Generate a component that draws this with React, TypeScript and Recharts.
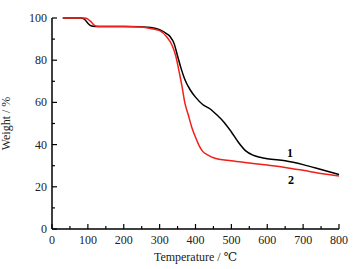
import React from 'react'
import { LineChart, Line, XAxis, YAxis, Label } from 'recharts'

const temp1 = [30, 80, 90, 100, 110, 120, 200, 250, 275, 300, 320, 330, 340, 350, 360, 370, 385, 400, 420, 440, 460, 480, 500, 520, 540, 560, 580, 600, 650, 700, 750, 800]
const weight1 = [100, 100, 99.5, 97.5, 96.2, 96, 96, 95.8, 95.5, 94.5, 92.5, 91, 88, 82, 76, 71, 66, 62.5, 59, 57, 54, 50.5, 46, 41, 37, 35, 34, 33.3, 32.3, 30.5, 28.2, 25.8]

const temp2 = [30, 90, 100, 110, 120, 130, 200, 250, 275, 300, 320, 335, 345, 355, 362, 370, 380, 390, 400, 410, 420, 435, 450, 500, 550, 600, 650, 700, 750, 800]
const weight2 = [100, 100, 99.5, 98, 96.3, 96, 96, 95.7, 95, 94, 91, 87, 82, 74, 68, 60, 54, 48, 43.5, 39.5, 36.8, 35, 33.8, 32.3, 31.3, 30.3, 29.2, 27.8, 26.3, 25.1]

const xTicks = [0, 50, 100, 150, 200, 250, 300, 350, 400, 450, 500, 550, 600, 650, 700, 750, 800]
const yTicks = [0, 10, 20, 30, 40, 50, 60, 70, 80, 90, 100]

const series1 = temp1.map((t, i) => ({ t, w: weight1[i] }))
const series2 = temp2.map((t, i) => ({ t, w: weight2[i] }))

const FONT = "'Liberation Serif', 'DejaVu Serif', serif"
const M = 4
const txt = { fontSize: 12, fontFamily: FONT, fill: '#222' }

const XTick = (props: any) => {
  const { x, y, payload } = props
  const major = payload.value % 100 === 0
  const ay = y - M
  return (
    <g>
      <line x1={x} x2={x} y1={ay} y2={ay - (major ? 5 : 3)} stroke="#000" strokeWidth={1.2} />
      {major && (
        <text x={x} y={ay + 15} textAnchor="middle" style={txt}>
          {payload.value}
        </text>
      )}
    </g>
  )
}

const YTick = (props: any) => {
  const { x, y, payload } = props
  const major = payload.value % 20 === 0
  const ax = x + M
  return (
    <g>
      <line x1={ax} x2={ax + (major ? 5 : 3)} y1={y} y2={y} stroke="#000" strokeWidth={1.2} />
      {major && (
        <text x={ax - 5} y={y + 4} textAnchor="end" style={txt}>
          {payload.value}
        </text>
      )}
    </g>
  )
}

export default function App() {
  return (
    <div style={{ position: 'absolute', left: 0, top: 0, background: '#fff', fontFamily: FONT }}>
      <LineChart width={355} height={269} margin={{ top: 18, right: 16, bottom: 0, left: 0 }} style={{ fontFamily: FONT }}>
        <XAxis
          type="number"
          dataKey="t"
          domain={[0, 800]}
          ticks={xTicks}
          interval={0}
          tickSize={0}
          tickMargin={M}
          tick={<XTick />}
          height={40}
          axisLine={{ stroke: '#000', strokeWidth: 1.5 }}
        >
          <Label value="Temperature / ℃" position="insideBottom" offset={8} style={txt} />
        </XAxis>
        <YAxis
          type="number"
          dataKey="w"
          domain={[0, 100]}
          ticks={yTicks}
          interval={0}
          tickSize={0}
          tickMargin={M}
          tick={<YTick />}
          width={52}
          axisLine={{ stroke: '#000', strokeWidth: 1.5 }}
        >
          <Label value="Weight / %" angle={-90} position="insideLeft" offset={6} style={{ ...txt, textAnchor: 'middle' }} />
        </YAxis>
        <Line data={series1} dataKey="w" type="monotone" stroke="#000" strokeWidth={1.5} dot={false} isAnimationActive={false} />
        <Line data={series2} dataKey="w" type="monotone" stroke="#f0201a" strokeWidth={1.5} dot={false} isAnimationActive={false} />
        <text x={290} y={157} textAnchor="middle" style={{ ...txt, fill: '#000', fontWeight: 'bold' }}>1</text>
        <text x={291} y={184} textAnchor="middle" style={{ ...txt, fill: '#000', fontWeight: 'bold' }}>2</text>
      </LineChart>
    </div>
  )
}
